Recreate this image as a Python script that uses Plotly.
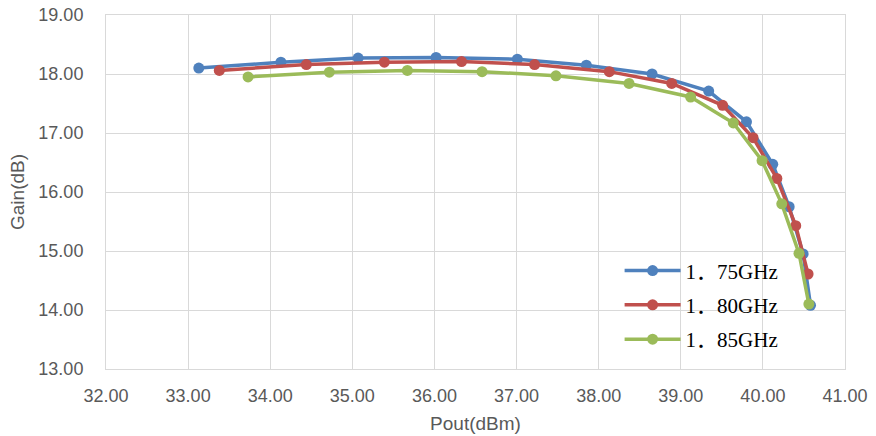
import plotly.graph_objects as go

series_names = ["1．75GHz", "1．80GHz", "1．85GHz"]
colors = ["#4F81BD", "#C0504D", "#9BBB59"]

pout_175 = [33.13, 34.13, 35.07, 36.02, 37.01, 37.85, 38.65, 39.34, 39.80, 40.12, 40.32, 40.49, 40.58]
gain_175 = [18.10, 18.20, 18.27, 18.28, 18.25, 18.15, 18.00, 17.71, 17.19, 16.47, 15.75, 14.95, 14.08]

pout_180 = [33.38, 34.44, 35.39, 36.33, 37.22, 38.13, 38.89, 39.51, 39.88, 40.17, 40.40, 40.55]
gain_180 = [18.06, 18.16, 18.20, 18.21, 18.16, 18.04, 17.84, 17.47, 16.92, 16.23, 15.43, 14.61]

pout_185 = [33.73, 34.72, 35.67, 36.58, 37.48, 38.37, 39.12, 39.64, 39.99, 40.23, 40.44, 40.56]
gain_185 = [17.95, 18.03, 18.06, 18.04, 17.97, 17.84, 17.61, 17.17, 16.53, 15.80, 14.96, 14.10]

x_ticks = [32, 33, 34, 35, 36, 37, 38, 39, 40, 41]
y_ticks = [13, 14, 15, 16, 17, 18, 19]

fig = go.Figure()
for name, xs, ys, c in zip(series_names,
                           [pout_175, pout_180, pout_185],
                           [gain_175, gain_180, gain_185], colors):
    fig.add_trace(go.Scatter(
        x=xs, y=ys, name=name, mode="lines+markers", legendgroup=name,
        line=dict(color=c, width=3.5),
        marker=dict(color=c, size=11),
    ))

grid = "#D9D9D9"
tickfont = dict(family="Liberation Sans, Arial, sans-serif", size=18, color="#595959")
titlefont = dict(family="Liberation Sans, Arial, sans-serif", size=19, color="#595959")
fig.update_layout(
    width=876, height=436,
    margin=dict(l=106, r=31, t=15, b=67),
    paper_bgcolor="white", plot_bgcolor="white",
    showlegend=True,
    legend=dict(
        x=0.695, y=0.335, xanchor="left", yanchor="top",
        bgcolor="rgba(0,0,0,0)",
        font=dict(family="Liberation Serif, Noto Sans CJK SC, serif", size=21, color="#000000"),
        itemwidth=56, tracegroupgap=4,
    ),
    xaxis=dict(
        range=[32, 41], tickvals=x_ticks, ticktext=[f"{v:.2f}" for v in x_ticks],
        showgrid=True, gridcolor=grid, gridwidth=1,
        showline=True, linecolor=grid, linewidth=1, mirror=True,
        zeroline=False, ticks="", tickfont=tickfont, ticklabelstandoff=10,
        ticklabeloverflow="allow", automargin=False,
        title=dict(text="Pout(dBm)", font=titlefont, standoff=12),
    ),
    yaxis=dict(
        range=[13, 19], tickvals=y_ticks, ticktext=[f"{v:.2f}" for v in y_ticks],
        showgrid=True, gridcolor=grid, gridwidth=1,
        showline=True, linecolor=grid, linewidth=1, mirror=True,
        zeroline=False, ticks="", tickfont=tickfont, ticklabelstandoff=18,
        ticklabeloverflow="allow", automargin=False,
        title=dict(text="Gain(dB)", font=titlefont, standoff=8),
    ),
)

fig.write_html("out.html", config={"displayModeBar": False},
               post_script="document.body.style.margin='0';")
